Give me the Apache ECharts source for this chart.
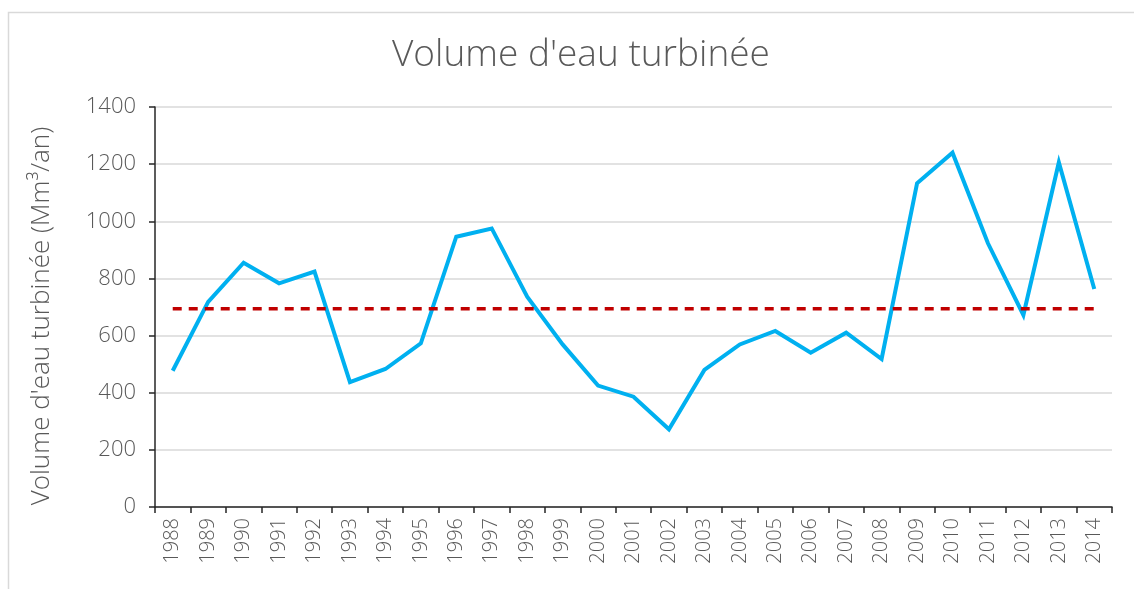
<!DOCTYPE html>
<html>
<head>
<meta charset="utf-8">
<script src="https://cdn.jsdelivr.net/npm/echarts@6/dist/echarts.min.js"></script>
<style>
  html, body { margin: 0; padding: 0; background: #fff; }
  #chart { width: 1134px; height: 589px; }
</style>
</head>
<body>
<div id="chart"></div>
<script>
// Years on the horizontal axis
const years = ['1988','1989','1990','1991','1992','1993','1994','1995','1996','1997',
  '1998','1999','2000','2001','2002','2003','2004','2005','2006','2007',
  '2008','2009','2010','2011','2012','2013','2014'];

// Turbined water volume per year (Mm³/an)
const volumes = [477, 718, 855, 783, 824, 437, 483, 573, 946, 975,
  736, 569, 425, 386, 272, 480, 569, 616, 540, 610,
  518, 1133, 1240, 923, 672, 1206, 763];

// Long-term mean (Mm³/an)
const meanVolume = 694;

// Y-axis ticks
const yTicks = [0, 200, 400, 600, 800, 1000, 1200, 1400];

const textColor = '#595959';
const fontFamily = '"Open Sans", sans-serif';

const chart = echarts.init(document.getElementById('chart'), null, { renderer: 'canvas' });

chart.setOption({
  animation: false,
  backgroundColor: '#ffffff',
  title: {
    text: "Volume d'eau turbinée",
    left: 387,
    top: 32,
    textStyle: { color: textColor, fontSize: 37, fontWeight: 300, fontFamily }
  },
  graphic: [{
    type: 'polyline',
    shape: { points: [[8.5, 589], [8.5, 12.5], [1134, 12.5]] },
    style: { stroke: '#d9d9d9', lineWidth: 1.5, fill: null },
    silent: true
  }],
  grid: { left: 155, right: 22, top: 107, bottom: 82, containLabel: false },
  xAxis: {
    type: 'category',
    data: years,
    boundaryGap: true,
    axisLine: { show: true, lineStyle: { color: '#262626', width: 1.5 } },
    axisTick: { show: true, alignWithLabel: false, length: 6, lineStyle: { color: '#262626', width: 1.5 } },
    axisLabel: {
      rotate: 90, interval: 0, margin: 11,
      color: textColor, fontSize: 20, fontWeight: 300, fontFamily
    },
    splitLine: { show: false }
  },
  yAxis: {
    type: 'value',
    min: yTicks[0],
    max: yTicks[yTicks.length - 1],
    interval: 200,
    name: 'Volume d\'eau turbinée (Mm³/an)',
    nameLocation: 'middle',
    nameGap: 100,
    nameTextStyle: { color: textColor, fontSize: 26, fontWeight: 300, fontFamily, padding: [0, 18, 0, 0] },
    axisLine: { show: true, lineStyle: { color: '#262626', width: 1.5 } },
    axisTick: { show: true, length: 6, lineStyle: { color: '#262626', width: 1.5 } },
    axisLabel: {
      color: textColor, fontSize: 22, fontWeight: 300, fontFamily, margin: 19,
      formatter: (v) => String(v)
    },
    splitLine: { show: true, lineStyle: { color: '#d9d9d9', width: 1.5 } }
  },
  series: [
    {
      name: 'Volume',
      type: 'line',
      data: volumes,
      symbol: 'none',
      lineStyle: { color: '#00b0f0', width: 4, join: 'miter' },
      z: 3
    },
    {
      name: 'Moyenne',
      type: 'line',
      data: years.map(() => meanVolume),
      symbol: 'none',
      lineStyle: { color: '#c00000', width: 3.5, type: [9, 7] },
      z: 4
    }
  ]
});
</script>
</body>
</html>
